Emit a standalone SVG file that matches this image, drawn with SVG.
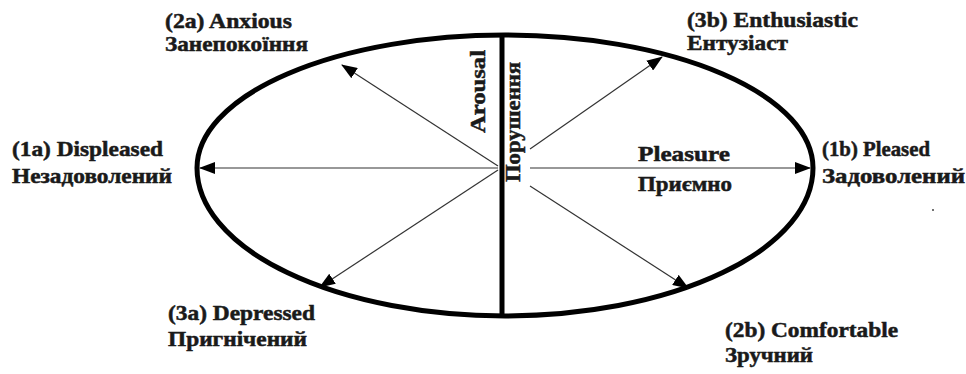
<svg xmlns="http://www.w3.org/2000/svg" width="966" height="374" viewBox="0 0 966 374">
<style>
.t{font-family:"Liberation Serif","Times New Roman",serif;font-weight:bold;font-size:21px;fill:#1a1a1a;stroke:#1a1a1a;stroke-width:0.5}
.a{stroke:#333;stroke-width:1.2;fill:none;marker-end:url(#ah)}
</style>
<defs>
<marker id="ah" markerUnits="userSpaceOnUse" markerWidth="16" markerHeight="12" viewBox="0 0 16 12" refX="15" refY="6" orient="auto">
<path d="M0,0 L16,6 L0,12 Z" fill="#000"/>
</marker>
</defs>
<rect width="966" height="374" fill="#fff"/>
<g id="ellipse">
<path d="M197,168 A308,133 0 0 1 813,168 A308,148 0 0 1 197,168 Z" fill="none" stroke="#000" stroke-width="5"/>
</g>
<g id="axis">
<line x1="502" y1="36" x2="502" y2="316" stroke="#000" stroke-width="5"/>
<text class="t" transform="translate(485,133) rotate(-90)" textLength="83" lengthAdjust="spacingAndGlyphs">Arousal</text>
<text class="t" transform="translate(520,182) rotate(-90)" textLength="120" lengthAdjust="spacingAndGlyphs">Порушення</text>
</g>
<g id="connectors">
<line class="a" x1="498" y1="168" x2="200" y2="168"/>
<line class="a" x1="530" y1="168" x2="810" y2="168"/>
<line class="a" x1="498" y1="166" x2="342" y2="65"/>
<line class="a" x1="530" y1="149" x2="662" y2="57"/>
<line class="a" x1="498" y1="170" x2="320" y2="287"/>
<line class="a" x1="530" y1="186" x2="688" y2="288"/>
</g>
<g id="n2a">
<text class="t" x="165" y="28" textLength="127" lengthAdjust="spacingAndGlyphs">(2a) Anxious</text>
<text class="t" x="165" y="51" textLength="143" lengthAdjust="spacingAndGlyphs">Занепокоїння</text>
</g>
<g id="n3b">
<text class="t" x="687" y="27" textLength="171" lengthAdjust="spacingAndGlyphs">(3b) Enthusiastic</text>
<text class="t" x="687" y="50" textLength="101" lengthAdjust="spacingAndGlyphs">Ентузіаст</text>
</g>
<g id="n1a">
<text class="t" x="12" y="156" textLength="151" lengthAdjust="spacingAndGlyphs">(1a) Displeased</text>
<text class="t" x="12" y="183" textLength="160" lengthAdjust="spacingAndGlyphs">Незадоволений</text>
</g>
<g id="n1b">
<text class="t" x="822" y="156" textLength="108" lengthAdjust="spacingAndGlyphs">(1b) Pleased</text>
<text class="t" x="822" y="183" textLength="143" lengthAdjust="spacingAndGlyphs">Задоволений</text>
</g>
<g id="pleasure">
<text class="t" x="638" y="161" textLength="92" lengthAdjust="spacingAndGlyphs">Pleasure</text>
<text class="t" x="638" y="191" textLength="94" lengthAdjust="spacingAndGlyphs">Приємно</text>
</g>
<g id="n3a">
<text class="t" x="168" y="320" textLength="147" lengthAdjust="spacingAndGlyphs">(3a) Depressed</text>
<text class="t" x="168" y="346" textLength="139" lengthAdjust="spacingAndGlyphs">Пригнічений</text>
</g>
<g id="n2b">
<text class="t" x="725" y="337" textLength="173" lengthAdjust="spacingAndGlyphs">(2b) Comfortable</text>
<text class="t" x="725" y="362" textLength="88" lengthAdjust="spacingAndGlyphs">Зручний</text>
</g>
<circle cx="933" cy="210" r="1" fill="#444"/>
</svg>
